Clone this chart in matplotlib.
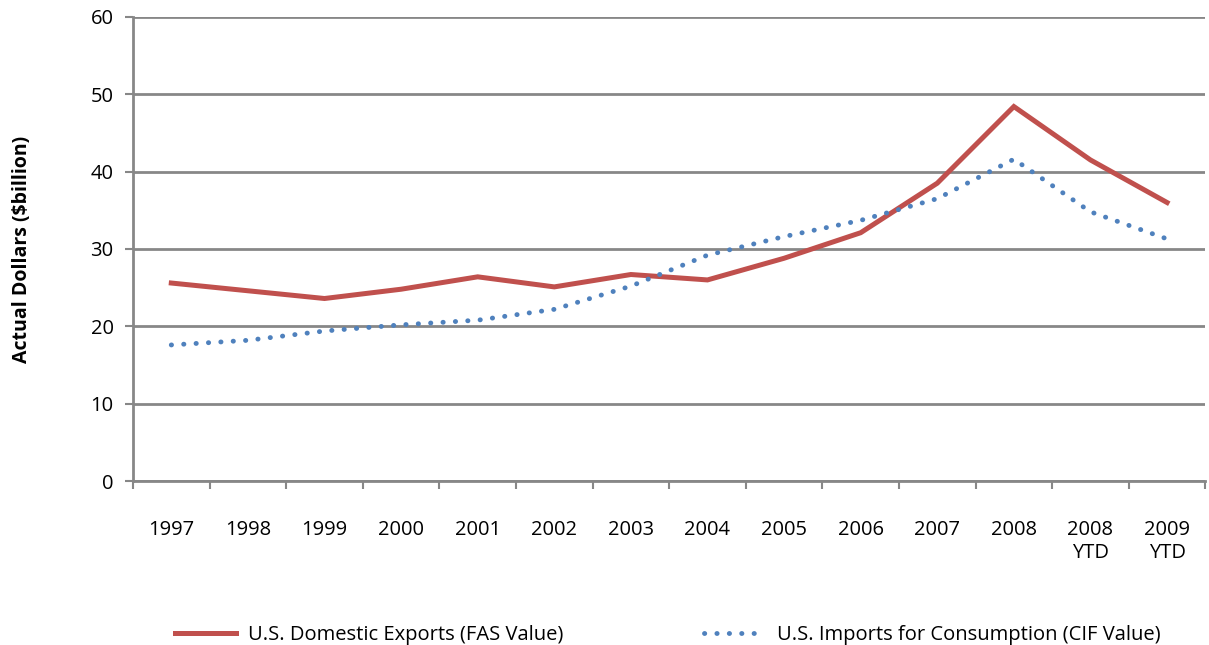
import matplotlib
matplotlib.use('Agg')
import matplotlib.pyplot as plt
import numpy as np

# categories and values
years = ['1997', '1998', '1999', '2000', '2001', '2002', '2003', '2004',
         '2005', '2006', '2007', '2008', '2008\nYTD', '2009\nYTD']
exports = [25.6, 24.6, 23.6, 24.8, 26.4, 25.1, 26.7, 26.0,
           28.8, 32.1, 38.5, 48.4, 41.5, 36.0]
imports = [17.6, 18.2, 19.4, 20.2, 20.8, 22.2, 25.2, 29.2,
           31.6, 33.7, 36.5, 41.6, 34.8, 31.3]

plt.rcParams['font.family'] = ['Open Sans', 'DejaVu Sans']

fig = plt.figure(figsize=(12.09, 6.45), dpi=100)
ax = fig.add_axes([0.110, 0.254, 0.887, 0.72])

x = np.arange(len(years))
ax.plot(x, exports, color='#C0504D', lw=3.6, solid_joinstyle='miter',
        label='U.S. Domestic Exports (FAS Value)', zorder=3)
ax.plot(x, imports, color='#4F81BD', lw=3.5, linestyle=(0, (0.05, 2.5)),
        dash_capstyle='round', label='U.S. Imports for Consumption (CIF Value)', zorder=3)

gray = '#878787'
ax.set_xlim(-0.5, len(years) - 0.5)
ax.set_ylim(0, 60)
ax.set_yticks(range(0, 61, 10))
ax.yaxis.grid(True, color=gray, lw=2)
ax.set_axisbelow(True)

ax.set_xticks(x)
ax.set_xticklabels(years, fontsize=14.5)
ax.set_xticks(np.arange(-0.5, len(years), 1), minor=True)
ax.tick_params(axis='x', which='major', length=0, pad=28)
ax.tick_params(axis='x', which='minor', length=6, width=1.5, color=gray, direction='out')
ax.tick_params(axis='y', length=6, width=1.5, color=gray, labelsize=14.5, pad=8)

for s in ['top', 'right']:
    ax.spines[s].set_visible(False)
ax.spines['left'].set_color(gray)
ax.spines['left'].set_linewidth(2)
ax.spines['bottom'].set_color(gray)
ax.spines['bottom'].set_linewidth(2)

ax.set_ylabel('Actual Dollars ($billion)', fontsize=14, fontweight='bold', labelpad=42)

fig.legend(loc='lower center', bbox_to_anchor=(0.5525, -0.028), ncol=2, frameon=False,
           fontsize=14.5, handlelength=3.0, handletextpad=0.6, columnspacing=7.0)

fig.savefig('out.png', dpi=100)
